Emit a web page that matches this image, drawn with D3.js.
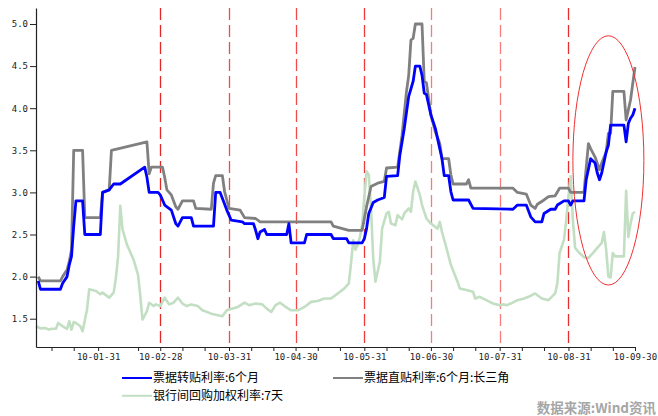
<!DOCTYPE html>
<html><head><meta charset="utf-8">
<script src="https://cdn.jsdelivr.net/npm/d3@7/dist/d3.min.js"></script>
<style>
body{margin:0;background:#fff;}
svg{display:block;}
</style></head>
<body>
<svg id="chart" width="658" height="416"></svg>
<script>
// ---------- data ----------
const seriesNames = ["票据转贴利率:6个月", "票据直贴利率:6个月:长三角", "银行间回购加权利率:7天"];

const blueDates = ["01-04","01-05","01-14","01-15","01-17","01-18","01-19","01-20","01-21","01-24","01-25","02-01","02-02","02-05","02-07","02-10","02-21","02-22","02-23","02-27","02-28","03-02","03-05","03-07","03-08","03-10","03-14","03-15","03-24","03-25","03-27","03-28","03-30","03-31","04-01","04-06","04-07","04-11","04-12","04-13","04-14","04-16","04-17","04-26","04-27","04-28","05-04","05-05","05-16","05-17","05-23","05-24","05-30","05-31","06-01","06-02","06-04","06-06","06-09","06-10","06-15","06-16","06-18","06-20","06-22","06-23","06-25","06-26","06-27","06-28","06-30","07-02","07-04","07-05","07-06","07-08","07-09","07-10","07-17","07-19","08-06","08-08","08-12","08-14","08-16","08-19","08-20","08-23","08-25","08-26","08-29","08-31","09-01","09-02","09-07","09-08","09-10","09-12","09-13","09-14","09-15","09-17","09-18","09-19","09-25","09-26","09-27","09-28","09-29","09-30"];
const blueValues = [1.95,1.85,1.85,1.92,2.0,2.14,2.24,2.6,2.9,2.9,2.5,2.5,3.0,3.03,3.1,3.1,3.3,3.18,3.0,3.0,2.97,2.85,2.79,2.63,2.6,2.7,2.7,2.6,2.6,3.0,3.0,2.93,2.79,2.73,2.67,2.65,2.63,2.63,2.55,2.45,2.53,2.56,2.5,2.5,2.63,2.4,2.4,2.5,2.5,2.45,2.45,2.4,2.4,2.45,2.57,2.75,2.88,2.91,2.94,3.19,3.2,3.44,3.76,4.14,4.32,4.5,4.5,4.39,4.18,4.16,3.92,3.76,3.52,3.4,3.2,3.2,3.01,2.91,2.91,2.81,2.8,2.85,2.85,2.71,2.65,2.65,2.75,2.8,2.8,2.85,2.9,2.9,2.85,2.9,2.9,3.15,3.4,3.35,3.23,3.15,3.23,3.48,3.56,3.8,3.8,3.6,3.82,3.88,3.92,4.0];

const grayDates = ["01-04","01-05","01-14","01-15","01-17","01-18","01-19","01-20","01-24","01-25","02-01","02-02","02-05","02-06","02-22","02-23","02-24","03-01","03-02","03-03","03-05","03-07","03-08","03-10","03-15","03-16","03-23","03-24","03-25","03-28","03-29","03-30","03-31","04-05","04-07","04-12","04-14","05-16","05-17","05-24","05-30","05-31","06-01","06-03","06-06","06-09","06-10","06-15","06-17","06-19","06-20","06-21","06-22","06-23","06-26","06-27","06-28","06-30","07-02","07-04","07-05","07-08","07-09","07-10","07-16","07-17","07-18","08-06","08-08","08-12","08-14","08-16","08-17","08-20","08-22","08-25","08-27","08-31","09-01","09-07","09-09","09-10","09-12","09-14","09-15","09-17","09-18","09-19","09-20","09-25","09-26","09-27","09-28","09-30"];
const grayValues = [2.0,1.95,1.95,2.0,2.08,2.18,2.32,3.5,3.5,2.7,2.7,3.0,3.03,3.5,3.6,3.22,3.3,3.3,3.18,3.03,2.97,2.83,2.8,2.9,2.9,2.81,2.8,3.11,3.2,3.2,3.01,2.91,2.81,2.79,2.7,2.69,2.65,2.65,2.6,2.55,2.55,2.69,2.83,3.07,3.11,3.13,3.29,3.3,3.68,4.2,4.39,4.81,4.83,5.0,5.0,4.32,4.3,3.92,3.72,3.58,3.4,3.4,3.21,3.1,3.1,3.15,3.05,3.05,3.0,2.98,2.85,2.81,2.86,2.91,2.95,2.96,3.05,3.05,3.0,3.0,3.58,3.52,3.42,3.27,3.35,3.48,3.7,3.7,4.2,4.2,3.86,3.98,4.1,4.49];

const greenDates = ["01-03","01-05","01-07","01-09","01-10","01-12","01-13","01-15","01-17","01-18","01-19","01-20","01-21","01-23","01-24","01-26","01-27","01-30","02-01","02-02","02-05","02-07","02-08","02-09","02-10","02-11","02-13","02-16","02-18","02-19","02-20","02-22","02-23","02-25","02-26","02-28","03-02","03-04","03-06","03-08","03-10","03-12","03-14","03-17","03-19","03-23","03-28","03-30","04-04","04-07","04-09","04-12","04-15","04-17","04-19","04-21","04-23","04-25","04-28","05-01","05-04","05-07","05-10","05-13","05-16","05-19","05-22","05-24","05-25","05-26","05-27","05-28","05-29","05-30","05-31","06-01","06-02","06-03","06-04","06-05","06-07","06-08","06-10","06-11","06-12","06-14","06-15","06-17","06-18","06-20","06-21","06-22","06-23","06-25","06-26","06-28","06-30","07-03","07-04","07-05","07-07","07-09","07-12","07-13","07-16","07-19","07-20","07-22","07-25","07-28","07-31","08-02","08-03","08-05","08-08","08-11","08-13","08-16","08-19","08-22","08-25","08-26","08-27","08-29","08-30","08-31","09-01","09-02","09-03","09-05","09-07","09-09","09-11","09-13","09-15","09-16","09-17","09-18","09-19","09-20","09-21","09-25","09-26","09-27","09-28","09-29","09-30"];
const greenValues = [1.41,1.385,1.39,1.37,1.38,1.38,1.45,1.41,1.38,1.47,1.37,1.46,1.45,1.41,1.35,1.61,1.85,1.83,1.79,1.81,1.75,1.81,1.98,2.24,2.84,2.56,2.38,2.2,2.02,1.77,1.49,1.59,1.69,1.65,1.67,1.65,1.75,1.67,1.69,1.75,1.68,1.65,1.67,1.65,1.6,1.56,1.53,1.6,1.64,1.69,1.66,1.68,1.67,1.62,1.58,1.66,1.69,1.65,1.6,1.6,1.64,1.7,1.71,1.74,1.74,1.8,1.86,1.92,2.16,2.43,2.32,2.38,2.47,2.62,2.95,3.25,3.21,2.81,2.22,1.94,2.18,2.57,2.75,2.77,2.63,2.61,2.73,2.68,2.75,2.81,2.77,3.01,3.13,2.97,2.85,2.69,2.63,2.57,2.65,2.53,2.34,2.14,1.94,1.86,1.84,1.82,1.74,1.76,1.72,1.68,1.66,1.67,1.66,1.68,1.72,1.74,1.76,1.8,1.74,1.72,1.8,1.92,2.28,2.44,2.67,2.95,3.19,2.67,2.34,2.28,2.23,2.22,2.28,2.34,2.4,2.53,2.32,2.0,1.99,2.28,2.24,2.24,3.02,2.47,2.63,2.75,2.77];

const yTicks = [1.5, 2.0, 2.5, 3.0, 3.5, 4.0, 4.5, 5.0];
const xLabelDates = ["01-31","02-28","03-31","04-30","05-31","06-30","07-31","08-31","09-30"];
const xMinorDates = ["01-10","01-20","02-18","03-10","03-20","04-10","04-20","05-10","05-20","06-10","06-20","07-10","07-20","08-10","08-20","09-10","09-20"];
const markerDates = ["02-28","03-31","04-30","05-31","06-30","07-31","08-31"];
const markerColors = ["#e32626","#f24a4a","#f24a4a","#ef3a3a","#f47c7c","#f47c7c","#e62e2e"];
// annotation ellipse bounds (date range, value range)
const ellipseDates = ["09-02","10-04"];
const ellipseValues = [1.90, 4.86];
const sourceText = "数据来源:Wind资讯";

// ---------- helpers ----------
const P = s => d3.timeParse("%Y-%m-%d")("2010-" + s);
const zip = (ds, vs) => ds.map((d, i) => ({date: P(d), value: vs[i]}));

const svg = d3.select("#chart");
const x = d3.scaleTime().domain([P("01-03"), P("09-30")]).range([36, 635]);
const y = d3.scaleLinear().domain([1.164, 5.19]).range([347, 8]);

const monoFont = "'DejaVu Sans Mono', monospace";
const cjkFont = "'Noto Sans CJK SC', 'Noto Sans', sans-serif";

// red dashed markers
svg.append("g").selectAll("line").data(markerDates).join("line")
  .attr("x1", d => Math.round(x(P(d))) + 0.5).attr("x2", d => Math.round(x(P(d))) + 0.5)
  .attr("y1", y.range()[1]).attr("y2", y.range()[0])
  .attr("stroke", (d, i) => markerColors[i]).attr("stroke-width", 1.3)
  .attr("stroke-dasharray", "12,5");

// series
const line = d3.line().x(d => x(d.date)).y(d => y(d.value));
const series = [
  {data: zip(greenDates, greenValues), color: "#c3dfc3", w: 2.6},
  {data: zip(grayDates, grayValues), color: "#808080", w: 2.8},
  {data: zip(blueDates, blueValues), color: "#0000ff", w: 2.8}
];
svg.append("g").selectAll("path").data(series).join("path")
  .attr("d", d => line(d.data))
  .attr("fill", "none")
  .attr("stroke", d => d.color)
  .attr("stroke-width", d => d.w)
  .attr("stroke-linejoin", "round");

// axes
const yAxis = svg.append("g").attr("transform", "translate(36,0)")
  .call(d3.axisLeft(y).tickValues(yTicks).tickFormat(d3.format(".1f")).tickSize(6).tickSizeOuter(0).tickPadding(2));
const xTickAll = xLabelDates.concat(xMinorDates).map(P);
const labelSet = new Set(xLabelDates);
const fmt = d3.timeFormat("%y-%m-%d");
const xAxis = svg.append("g").attr("transform", "translate(0,347)")
  .call(d3.axisBottom(x).tickValues(xTickAll)
    .tickFormat(d => labelSet.has(d3.timeFormat("%m-%d")(d)) ? fmt(d) : "")
    .tickSize(4).tickSizeOuter(0).tickPadding(3));
[yAxis, xAxis].forEach(g => {
  g.select(".domain").attr("stroke", "#222").attr("stroke-width", 1.2);
  g.selectAll(".tick line").attr("stroke", "#222");
  g.selectAll("text").attr("font-family", monoFont).attr("font-size", 9).attr("fill", "#222");
});

// annotation ellipse
const ex0 = x(P(ellipseDates[0])), ex1 = x(P(ellipseDates[1]));
const ey0 = y(ellipseValues[1]), ey1 = y(ellipseValues[0]);
svg.append("ellipse")
  .attr("cx", (ex0 + ex1) / 2).attr("cy", (ey0 + ey1) / 2)
  .attr("rx", (ex1 - ex0) / 2).attr("ry", (ey1 - ey0) / 2)
  .attr("fill", "none").attr("stroke", "#f03030").attr("stroke-width", 1);

// legend
const legendItems = [
  {name: seriesNames[0], color: "#0000ff", lx: 122, ly: 378},
  {name: seriesNames[1], color: "#808080", lx: 333, ly: 378},
  {name: seriesNames[2], color: "#c3dfc3", lx: 122, ly: 395.8}
];
const lg = svg.append("g").selectAll("g").data(legendItems).join("g")
  .attr("transform", d => `translate(${d.lx},${d.ly})`);
lg.append("line").attr("x1", 0).attr("x2", 30).attr("stroke", d => d.color).attr("stroke-width", 2);
lg.append("text").attr("x", 31).attr("y", 4.3).text(d => d.name)
  .attr("font-family", cjkFont).attr("font-size", 12).attr("fill", "#000");

// source
svg.append("text").attr("x", 656).attr("y", 413).attr("text-anchor", "end")
  .attr("font-family", cjkFont).attr("font-size", 13.5).attr("font-weight", "bold")
  .attr("fill", "#a6a6a6").text(sourceText);
</script>
</body></html>
